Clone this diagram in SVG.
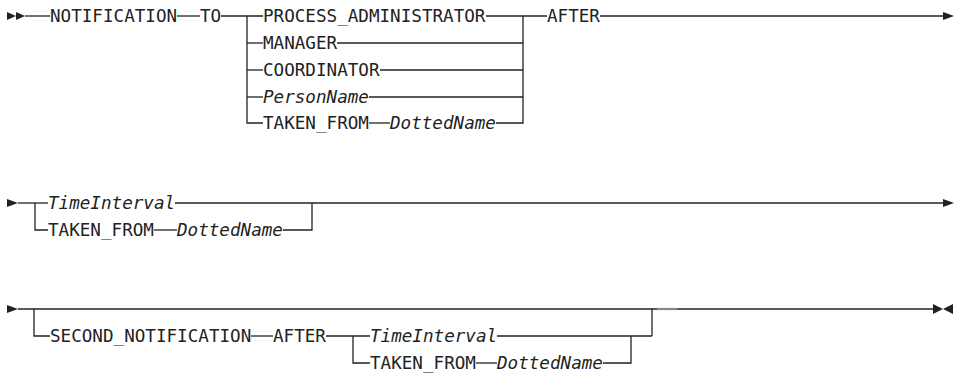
<svg xmlns="http://www.w3.org/2000/svg" width="960" height="376" viewBox="0 0 960 376">
<style>
text{font-family:"DejaVu Sans Mono","Liberation Mono",monospace;font-size:17.6px;fill:#222}
.i{font-style:italic}
.c line,.c path{stroke:#222;stroke-width:1.3;fill:none}
.a{fill:#222}
</style>
<rect width="960" height="376" fill="#fff"/>
<g id="connectors" class="c">
<!-- row 1 -->
<line x1="25" y1="16" x2="50" y2="16"/>
<line x1="177" y1="16" x2="200" y2="16"/>
<line x1="221" y1="16" x2="263" y2="16"/>
<path d="M247 16V123H263"/>
<line x1="247" y1="43" x2="263" y2="43"/>
<line x1="247" y1="70" x2="263" y2="70"/>
<line x1="247" y1="97" x2="263" y2="97"/>
<line x1="369" y1="123" x2="390" y2="123"/>
<line x1="486" y1="16" x2="547" y2="16"/>
<path d="M496 123H523V16"/>
<line x1="337" y1="43" x2="523" y2="43"/>
<line x1="380" y1="70" x2="523" y2="70"/>
<line x1="369" y1="97" x2="523" y2="97"/>
<line x1="600" y1="16" x2="944" y2="16"/>
<!-- row 2 -->
<line x1="18" y1="203" x2="48" y2="203"/>
<path d="M35 203V230H48"/>
<line x1="175" y1="203" x2="944" y2="203"/>
<line x1="154" y1="230" x2="177" y2="230"/>
<path d="M283 230H312V203"/>
<!-- row 3 -->
<line x1="18" y1="309" x2="933" y2="309"/>
<path d="M34 309V336H50"/>
<line x1="251" y1="336" x2="273" y2="336"/>
<line x1="326" y1="336" x2="370" y2="336"/>
<path d="M353 336V363H370"/>
<line x1="497" y1="336" x2="652" y2="336"/>
<line x1="652" y1="336" x2="652" y2="309"/>
<line x1="476" y1="363" x2="497" y2="363"/>
<path d="M603 363H631V336"/>
<line x1="657" y1="309" x2="677" y2="309" style="stroke:#888;stroke-width:2.2"/>
<!-- arrowheads -->
<polygon class="a" points="7,12 16,16 7,20"/>
<polygon class="a" points="16,12 25,16 16,20"/>
<polygon class="a" points="943,12 954,16 943,20"/>
<polygon class="a" points="7,199 18,203 7,207"/>
<polygon class="a" points="943,199 954,203 943,207"/>
<polygon class="a" points="7,305 18,309 7,313"/>
<polygon class="a" points="933,304 943,309 933,314"/>
<polygon class="a" points="953,304 943,309 953,314"/>
</g>
<g id="n-notification"><text x="50" y="22">NOTIFICATION</text></g>
<g id="n-to"><text x="200" y="22">TO</text></g>
<g id="n-process-admin"><text x="263" y="22">PROCESS_ADMINISTRATOR</text></g>
<g id="n-manager"><text x="263" y="49">MANAGER</text></g>
<g id="n-coordinator"><text x="263" y="76">COORDINATOR</text></g>
<g id="n-personname"><text class="i" x="263" y="103">PersonName</text></g>
<g id="n-taken-from-1"><text x="263" y="129">TAKEN_FROM</text></g>
<g id="n-dottedname-1"><text class="i" x="390" y="129">DottedName</text></g>
<g id="n-after-1"><text x="547" y="22">AFTER</text></g>
<g id="n-timeinterval-1"><text class="i" x="48" y="209">TimeInterval</text></g>
<g id="n-taken-from-2"><text x="48" y="236">TAKEN_FROM</text></g>
<g id="n-dottedname-2"><text class="i" x="177" y="236">DottedName</text></g>
<g id="n-second-notification"><text x="50" y="342">SECOND_NOTIFICATION</text></g>
<g id="n-after-2"><text x="273" y="342">AFTER</text></g>
<g id="n-timeinterval-2"><text class="i" x="370" y="342">TimeInterval</text></g>
<g id="n-taken-from-3"><text x="370" y="369">TAKEN_FROM</text></g>
<g id="n-dottedname-3"><text class="i" x="497" y="369">DottedName</text></g>
</svg>
